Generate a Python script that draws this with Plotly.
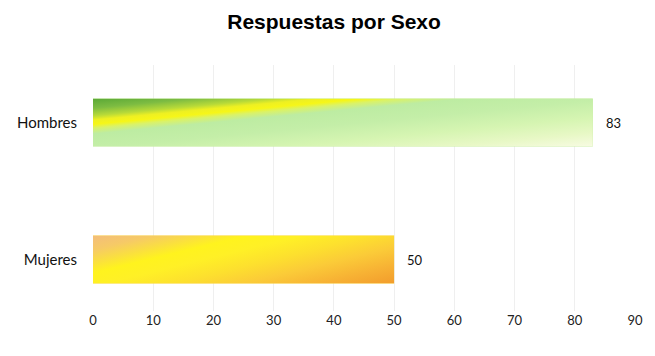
import base64
import plotly.graph_objects as go

# Survey responses by sex
categories = ["Hombres", "Mujeres"]
values = [83, 50]
x_ticks = list(range(0, 91, 10))
title_text = "Respuestas por Sexo"

# Diagonal gradient fills for each bar: normal vector of the colour bands
# (in bar pixel space) and the colour stops along it.
bar_fills = [
    dict(
        base="#c4ec9c",
        normal=(25, 270),
        stops=[
            (0.00, "#5aa836"),
            (0.10, "#7dbc42"),
            (0.18, "#b8da38"),
            (0.225, "#eef022"),
            (0.27, "#f6f618"),
            (0.31, "#daf268"),
            (0.37, "#bdeca2"),
            (0.52, "#c4eea8"),
            (0.70, "#d6f5b2"),
            (0.86, "#e8f8c6"),
            (1.00, "#f7fbe2"),
        ],
    ),
    dict(
        base="#fbd640",
        normal=(38, 160),
        stops=[
            (0.00, "#f3bd7a"),
            (0.12, "#f6ca66"),
            (0.22, "#fadf40"),
            (0.31, "#fff31e"),
            (0.42, "#fff026"),
            (0.56, "#fde02e"),
            (0.70, "#fbcb38"),
            (0.85, "#f7b234"),
            (1.00, "#f29c2c"),
        ],
    ),
]

BAR_WIDTH = 0.35
PX_PER_UNIT = 6.04
BAR_PX_HEIGHT = 47


def gradient_uri(w, h, normal, stops):
    nx, ny = normal
    norm = (nx ** 2 + ny ** 2) ** 0.5
    nx, ny = nx / norm, ny / norm
    tmax = w * nx + h * ny
    stop_xml = "".join(
        f'<stop offset="{o}" stop-color="{c}"/>' for o, c in stops
    )
    svg = (
        f'<svg xmlns="http://www.w3.org/2000/svg" width="{w:.0f}" height="{h:.0f}" '
        f'viewBox="0 0 {w:.2f} {h:.2f}" preserveAspectRatio="none">'
        f'<defs><linearGradient id="g" gradientUnits="userSpaceOnUse" '
        f'x1="0" y1="0" x2="{nx * tmax:.2f}" y2="{ny * tmax:.2f}">{stop_xml}'
        f'</linearGradient></defs>'
        f'<rect x="0" y="0" width="{w:.2f}" height="{h:.2f}" fill="url(#g)"/></svg>'
    )
    return "data:image/svg+xml;base64," + base64.b64encode(svg.encode()).decode()


positions = list(range(len(categories)))

fig = go.Figure(
    go.Bar(
        x=values,
        y=positions,
        orientation="h",
        width=BAR_WIDTH,
        marker=dict(color=[f["base"] for f in bar_fills], line=dict(width=0)),
        hovertext=categories,
        hoverinfo="text+x",
    )
)

images = []
annotations = []
for pos, val, fill in zip(positions, values, bar_fills):
    images.append(
        dict(
            source=gradient_uri(val * PX_PER_UNIT, BAR_PX_HEIGHT, fill["normal"], fill["stops"]),
            xref="x",
            yref="y",
            x=0,
            y=pos - BAR_WIDTH / 2,
            sizex=val,
            sizey=BAR_WIDTH,
            xanchor="left",
            yanchor="top",
            sizing="stretch",
            layer="above",
        )
    )
    annotations.append(
        dict(
            x=val,
            y=pos,
            xref="x",
            yref="y",
            text=str(val),
            showarrow=False,
            xanchor="left",
            yanchor="middle",
            xshift=11,
            font=dict(family="Lato, sans-serif", size=13, color="#111111"),
        )
    )

fig.update_layout(
    width=655,
    height=356,
    margin=dict(l=93, r=18, t=65, b=45),
    paper_bgcolor="white",
    plot_bgcolor="white",
    showlegend=False,
    title=dict(
        text=f"<b>{title_text}</b>",
        x=0.51,
        xref="container",
        xanchor="center",
        y=1 - 22 / 356,
        yref="container",
        yanchor="middle",
        font=dict(family="Liberation Sans, Arial, sans-serif", size=21, color="#000000"),
    ),
    xaxis=dict(
        range=[0, 90],
        tickvals=x_ticks,
        showgrid=True,
        gridcolor="#efefef",
        gridwidth=1,
        zeroline=False,
        showline=False,
        ticks="",
        tickfont=dict(family="Lato, sans-serif", size=13, color="#222222"),
    ),
    yaxis=dict(
        range=[len(categories) - 1 + 0.376, -0.42],
        tickvals=positions,
        ticktext=categories,
        showgrid=False,
        zeroline=False,
        showline=False,
        ticks="",
        ticklabelstandoff=15,
        tickfont=dict(family="Lato, sans-serif", size=15, color="#111111"),
    ),
    images=images,
    annotations=annotations,
)

fig.write_html("out.html")
